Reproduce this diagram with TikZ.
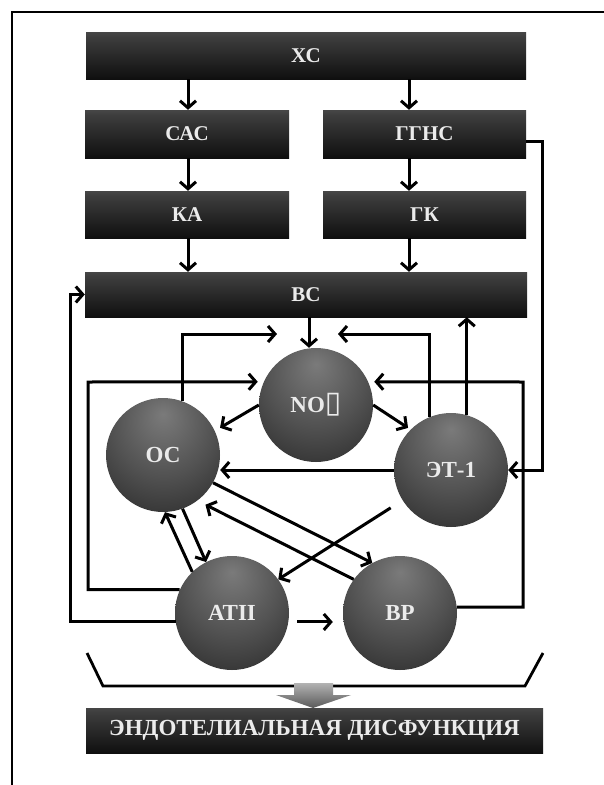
\documentclass[tikz,border=0pt]{standalone}
\usepackage{fontspec}
\setmainfont{Liberation Serif}
\newfontfamily\symfont{DejaVu Sans}
\usetikzlibrary{arrows.meta,calc}
\pgfdeclareverticalshading{barshade}{100bp}{color(0bp)=(black!97); color(25bp)=(black!94); color(70bp)=(black!76); color(92bp)=(black!60); color(94bp)=(black!25); color(100bp)=(black!30)}
\pgfdeclareradialshading{ballshade}{\pgfpoint{0bp}{18bp}}{color(0bp)=(black!52); color(22bp)=(black!68); color(45bp)=(black!86); color(62bp)=(black!93); color(75bp)=(black!95)}
\tikzset{
  bar/.style={rectangle, shade, shading=barshade, minimum height=47pt, inner sep=0pt,
    text=white!92!black, font=\bfseries\fontsize{21}{21}\selectfont},
  ball/.style={circle, shade, shading=ballshade, minimum size=114pt, inner sep=0pt,
    text=white!92!black, font=\bfseries\fontsize{23}{23}\selectfont},
  arr/.style={line width=3pt, -{Straight Barb[length=7pt,width=16pt]}},
  ln/.style={line width=2.8pt}
}
\begin{document}
\begin{tikzpicture}[x=1pt,y=-1pt]
\useasboundingbox (0,0) rectangle (604,785);
\fill[white] (0,0) rectangle (604,785);
\draw[line width=2pt] (12,785) -- (12,12) -- (604,12);

% boxes
\node[bar, minimum width=440pt] (xc) at (306,55.5) {ХС};
\node[bar, minimum width=204pt, minimum height=48pt] (sac) at (187,134) {САС};
\node[bar, minimum width=203pt, minimum height=48pt] (ggns) at (424.5,134) {ГГНС};
\node[bar, minimum width=204pt] (ka) at (187,214.5) {КА};
\node[bar, minimum width=203pt] (gk) at (424.5,214.5) {ГК};
\node[bar, minimum width=442pt, minimum height=45pt] (bc) at (306,294.5) {ВС};
\node[bar, minimum width=457pt, minimum height=45pt, font=\bfseries\fontsize{23}{23}\selectfont] (ed) at (314.5,730.5) {ЭНДОТЕЛИАЛЬНАЯ ДИСФУНКЦИЯ};

% circles
\node[ball] (no) at (316,405) {NO{\symfont\fontsize{30}{30}\selectfont ▯}};
\node[ball] (oc) at (163,455) {ОС};
\node[ball] (et) at (451,470) {ЭТ-1};
\node[ball] (at) at (232,613) {АТII};
\node[ball] (bp) at (400,613) {ВР};

% helper coordinates
\coordinate (lx) at (188,0);
\coordinate (rx) at (409,0);
\coordinate (nx) at (309,0);
\coordinate (gx) at (542,0);
\coordinate (olx) at (70,0);
\coordinate (nol) at (277,334);
\coordinate (nor) at (338,334);
\coordinate (lc) at (88,382);
\coordinate (rc) at (523,382);

% top cascade
\draw[arr] (xc.south -| lx) -- (sac.north -| lx);
\draw[arr] (xc.south -| rx) -- (ggns.north -| rx);
\draw[arr] (sac.south -| lx) -- (ka.north -| lx);
\draw[arr] (ggns.south -| rx) -- (gk.north -| rx);
\draw[arr] (ka.south -| lx) -- (bc.north -| lx);
\draw[arr] (gk.south -| rx) -- (bc.north -| rx);

% feedbacks
\draw[arr] ([yshift=-7pt]ggns.east) -| (gx |- et.east) -- (et.east);
\draw[arr] (bc.south -| nx) -- (no.north -| nx);
\draw[arr] (oc.70) |- (nol);
\draw[arr] (et.112) |- (nor);
\draw[arr] (et.74) -- (et.74 |- bc.south);
\draw[arr] (at.156) -| (lc) -- ([xshift=-6pt]no.156);
\draw[arr] (bp.6) -| (rc) -- ([xshift=6pt]no.24);
\draw[arr] (at.189) -| (olx |- bc.west) -- (bc.west);

% between circles
\draw[arr, shorten >=6pt] (no.180) -- (oc.25);
\draw[arr, shorten >=3pt] (no.0) -- (et.135);
\draw[arr] (et.west) -- (oc.east |- et.west);
\draw[arr] (oc.-29) -- (bp.119);
\draw[arr, shorten >=9pt] (bp.144) -- (oc.-53);
\draw[arr, shorten <=14pt] (et.212) -- (at.36);
\draw[arr] (oc.-70) -- (at.117);
\draw[arr] (at.134) -- (oc.-88);
\draw[arr, shorten <=9pt, shorten >=10pt] (at.-9) -- (at.-9 -| bp.west);

% bracket and block arrow
\draw[ln] (87,653) -- (103,686) -- (525,686) -- (543,653);
\shade[top color=black!30, bottom color=black!65] (294,683) -- (333,683) -- (333,695) -- (351,695) -- (313,708) -- (276,695) -- (294,695) -- cycle;
\end{tikzpicture}
\end{document}
